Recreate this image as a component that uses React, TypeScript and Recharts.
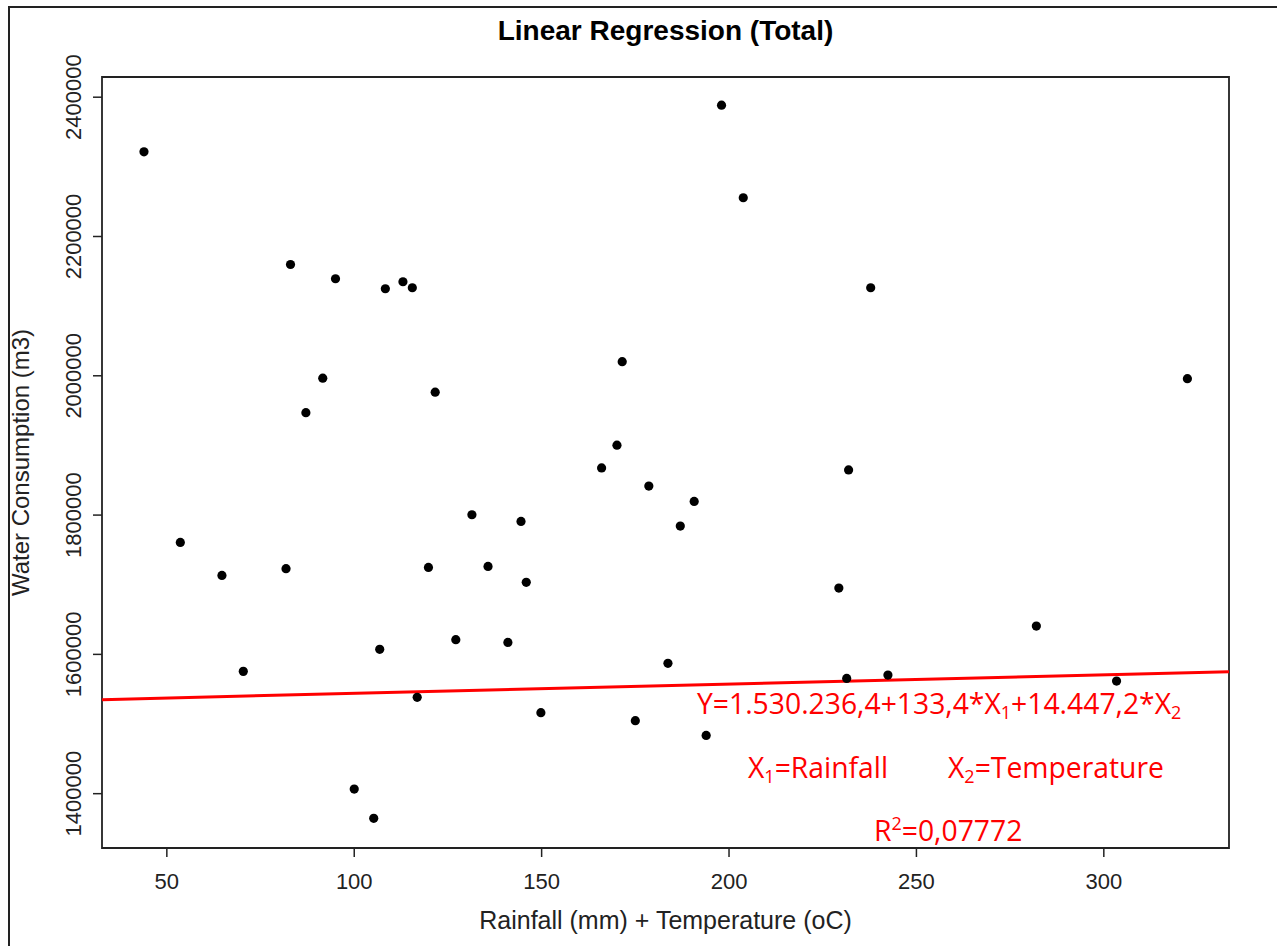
import { ScatterChart, Scatter, XAxis, YAxis, ReferenceLine, ReferenceArea } from 'recharts'

// rainfall + temperature (x) vs total water consumption (y)
const rainTemp = [
  43.9, 83.0, 95.0, 108.3, 113.0, 115.5, 91.6, 87.1, 121.6, 53.6,
  64.7, 81.8, 119.8, 131.4, 135.7, 127.1, 106.8, 70.4, 116.8, 100.0,
  105.2, 198.0, 203.8, 237.8, 171.5, 170.1, 166.0, 231.9, 178.6, 190.7,
  144.5, 187.0, 145.9, 229.3, 141.0, 183.7, 231.4, 242.4, 149.8, 175.0,
  193.9, 322.3, 282.0, 303.4,
]
const consumption = [
  2321600, 2159800, 2139300, 2125000, 2135000, 2126400, 1996600, 1947000, 1976500, 1760800,
  1713400, 1723000, 1724900, 1800500, 1726300, 1621100, 1607200, 1575600, 1538300, 1406600,
  1364600, 2388500, 2255600, 2126400, 2020200, 1900400, 1867700, 1864800, 1841600, 1819600,
  1790900, 1784200, 1703400, 1695200, 1617200, 1587100, 1565500, 1570300, 1516300, 1504800,
  1483700, 1995800, 1640600, 1561700,
]

// fitted line, drawn edge to edge like abline()
const fitX = [32.7, 333.4]
const fitY = [1535000, 1575200]

const xTicks = [50, 100, 150, 200, 250, 300]
const yTicks = [1400000, 1600000, 1800000, 2000000, 2200000, 2400000]
const xDomain: [number, number] = [32.7, 333.4]
const yDomain: [number, number] = [1322000, 2429000]

const W = 1277
const H = 946
const PLOT = { left: 102, top: 77, right: 1229, bottom: 848 }
const Y_AXIS_W = 60
const X_AXIS_H = 60

const font = '"Liberation Sans", Arial, sans-serif'
const noteFont = '"Open Sans", sans-serif'
const red = '#ff0000'

const points = rainTemp.map((x, i) => ({ x, y: consumption[i] }))

function XTick({ x, y, payload }: any) {
  return (
    <text x={x} y={y + 30} textAnchor="middle" fontFamily={font} fontSize={22} fill="#222">
      {payload.value}
    </text>
  )
}

function YTick({ y, payload }: any) {
  const bx = PLOT.left - 21
  return (
    <text
      transform={`translate(${bx}, ${y}) rotate(-90)`}
      textAnchor="middle"
      fontFamily={font}
      fontSize={22}
      fill="#222"
    >
      {payload.value}
    </text>
  )
}

// small index number (sub- or superscript)
function Idx({ children, up }: { children: string; up?: boolean }) {
  return (
    <tspan fontSize={18} baselineShift={up ? '11px' : '-5px'}>
      {children}
    </tspan>
  )
}

export default function App() {
  const cx = (PLOT.left + PLOT.right) / 2
  const cy = (PLOT.top + PLOT.bottom) / 2
  return (
    <div style={{ position: 'fixed', left: 0, top: 0, width: W, height: H, background: '#fff' }}>
      <div style={{ position: 'absolute', left: 8, top: 6, width: W + 20, height: H + 20, border: '2px solid #222' }} />
      <ScatterChart
        width={W}
        height={H}
        margin={{
          top: PLOT.top,
          right: W - PLOT.right,
          bottom: H - PLOT.bottom - X_AXIS_H,
          left: PLOT.left - Y_AXIS_W,
        }}
        style={{ position: 'absolute', left: 0, top: 0 }}
      >
        <XAxis
          type="number"
          dataKey="x"
          domain={xDomain}
          ticks={xTicks}
          allowDataOverflow
          height={X_AXIS_H}
          axisLine={false}
          tickLine={{ stroke: '#222', strokeWidth: 1.5 }}
          tickSize={9}
          tick={<XTick />}
          interval={0}
        />
        <YAxis
          type="number"
          dataKey="y"
          domain={yDomain}
          ticks={yTicks}
          allowDataOverflow
          width={Y_AXIS_W}
          axisLine={false}
          tickLine={{ stroke: '#222', strokeWidth: 1.5 }}
          tickSize={9}
          tick={<YTick />}
          interval={0}
        />
        <ReferenceArea
          x1={xDomain[0]}
          x2={xDomain[1]}
          y1={yDomain[0]}
          y2={yDomain[1]}
          fill="none"
          stroke="#222"
          strokeWidth={1.8}
          fillOpacity={0}
        />
        <ReferenceLine
          segment={[
            { x: fitX[0], y: fitY[0] },
            { x: fitX[1], y: fitY[1] },
          ]}
          stroke={red}
          strokeWidth={3}
        />
        <Scatter
          data={points}
          isAnimationActive={false}
          shape={(p: any) => <circle cx={p.cx} cy={p.cy} r={4.6} fill="#000" />}
        />
      </ScatterChart>
      <svg width={W} height={H} style={{ position: 'absolute', left: 0, top: 0, pointerEvents: 'none' }}>
        <text x={cx} y={40} textAnchor="middle" fontFamily={font} fontWeight="bold" fontSize={28} fill="#000">
          Linear Regression (Total)
        </text>
        <text x={cx} y={929} textAnchor="middle" fontFamily={font} fontSize={25} fill="#222">
          Rainfall (mm) + Temperature (oC)
        </text>
        <text
          transform={`translate(29, ${cy}) rotate(-90)`}
          textAnchor="middle"
          fontFamily={font}
          fontSize={24}
          fill="#222"
        >
          Water Consumption (m3)
        </text>
        <g fontFamily={noteFont} fontSize={28.3} fill={red}>
          <text x={697} y={714}>
            Y=1.530.236,4+133,4*X<Idx>1</Idx>+14.447,2*X<Idx>2</Idx>
          </text>
          <text x={748} y={778}>
            X<Idx>1</Idx>=Rainfall
          </text>
          <text x={948} y={778}>
            X<Idx>2</Idx>=Temperature
          </text>
          <text x={874} y={841}>
            R<Idx up>2</Idx>=0,07772
          </text>
        </g>
      </svg>
    </div>
  )
}
